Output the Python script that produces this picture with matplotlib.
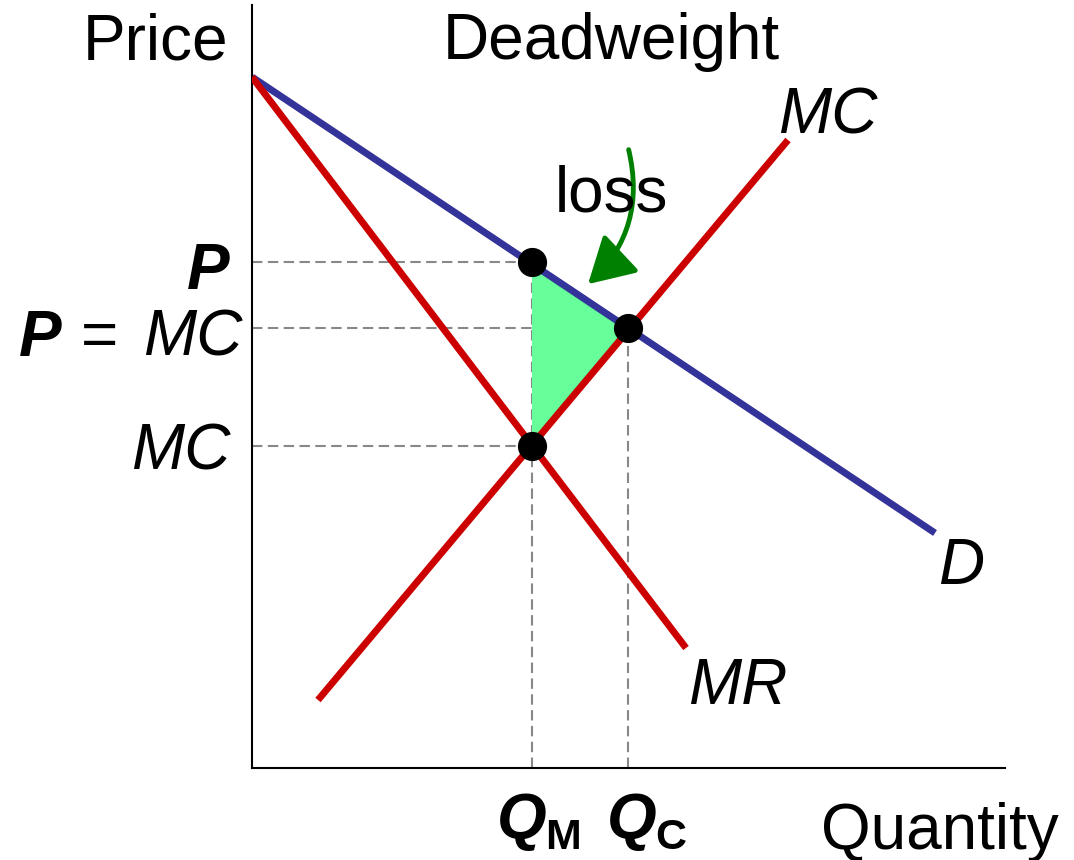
import matplotlib
matplotlib.use("Agg")
import matplotlib.pyplot as plt
from matplotlib.patches import FancyArrowPatch

plt.rcParams['font.family'] = ['Liberation Sans', 'DejaVu Sans']

# curves (quantity, price)
demand_q = [0.0, 6.83]
demand_p = [6.91, 2.35]
mr_q = [0.0, 4.34]
mr_p = [6.91, 1.20]
mc_q = [0.66, 5.36]
mc_p = [0.68, 6.28]

# key values
q_m = 2.80
q_c = 3.76
p_m = 5.06
p_c = 4.40
mc_m = 3.22

fig = plt.figure(figsize=(10.74, 8.6), dpi=100)
ax = fig.add_axes([252/1074, 92/860, 753/1074, 763/860])
ax.set_xlim(0, 7.53)
ax.set_ylim(0, 7.63)
for s in ['top', 'right']:
    ax.spines[s].set_visible(False)
for s in ['left', 'bottom']:
    ax.spines[s].set_linewidth(1.5)
ax.set_xticks([])
ax.set_yticks([])

# deadweight loss triangle
ax.fill([q_m, q_c, q_m], [p_m, p_c, mc_m], color='#66FF99', zorder=1, lw=0)

# guide lines
dash = dict(color='#888888', lw=1.5, ls=(0, (5, 2.6)), zorder=0.5)
ax.plot([0, q_m], [p_m, p_m], **dash)
ax.plot([0, q_c], [p_c, p_c], **dash)
ax.plot([0, q_m], [mc_m, mc_m], **dash)
ax.plot([q_m, q_m], [0, p_m], **dash)
ax.plot([q_c, q_c], [0, p_c], **dash)

ax.plot(demand_q, demand_p, color='#333399', lw=5, solid_capstyle='butt', zorder=2)
ax.plot(mr_q, mr_p, color='#CC0000', lw=5, solid_capstyle='butt', zorder=3)
ax.plot(mc_q, mc_p, color='#CC0000', lw=5, solid_capstyle='butt', zorder=3)

ax.plot([q_m, q_c, q_m], [p_m, p_c, mc_m], 'o', color='black', ms=20, zorder=5)

arrow = FancyArrowPatch((3.76, 6.21), (3.34, 4.82),
                        connectionstyle='arc3,rad=-0.3',
                        arrowstyle='-|>,head_length=1.4,head_width=0.8',
                        mutation_scale=20, color='#008000', lw=3.5, zorder=4)
ax.add_patch(arrow)

fs = 46
kw = dict(fontsize=fs, clip_on=False, zorder=6)
ax.text(-0.24, 7.26, 'Price', ha='right', va='center', **kw)
ax.text(3.59, 7.26, 'Deadweight', ha='center', va='center', **kw)
ax.text(3.59, 5.73, 'loss', ha='center', va='center', **kw)
ax.text(5.26, 6.51, 'MC', ha='left', va='center', style='italic', **kw)
ax.text(6.86, 2.01, 'D', ha='left', va='center', style='italic', **kw)
ax.text(4.36, 0.81, 'MR', ha='left', va='center', style='italic', **kw)
ax.text(-0.22, 4.96, 'P', ha='right', va='center', style='italic', weight='bold', **kw)
ax.text(-1.90, 4.29, 'P', ha='right', va='center', style='italic', weight='bold', **kw)
ax.text(-1.52, 4.29, '=', ha='center', va='center', **kw)
ax.text(-0.10, 4.29, 'MC', ha='right', va='center', style='italic', **kw)
ax.text(-0.22, 3.16, 'MC', ha='right', va='center', style='italic', **kw)
ax.text(2.45, -0.71, 'Q', ha='left', va='baseline', style='italic', weight='bold', **kw)
ax.text(2.93, -0.81, 'M', ha='left', va='baseline', weight='bold', fontsize=31, clip_on=False)
ax.text(3.55, -0.71, 'Q', ha='left', va='baseline', style='italic', weight='bold', **kw)
ax.text(4.03, -0.81, 'C', ha='left', va='baseline', weight='bold', fontsize=31, clip_on=False)
ax.text(6.88, -0.64, 'Quantity', ha='center', va='center', **kw)

fig.savefig('out.png', dpi=100)
